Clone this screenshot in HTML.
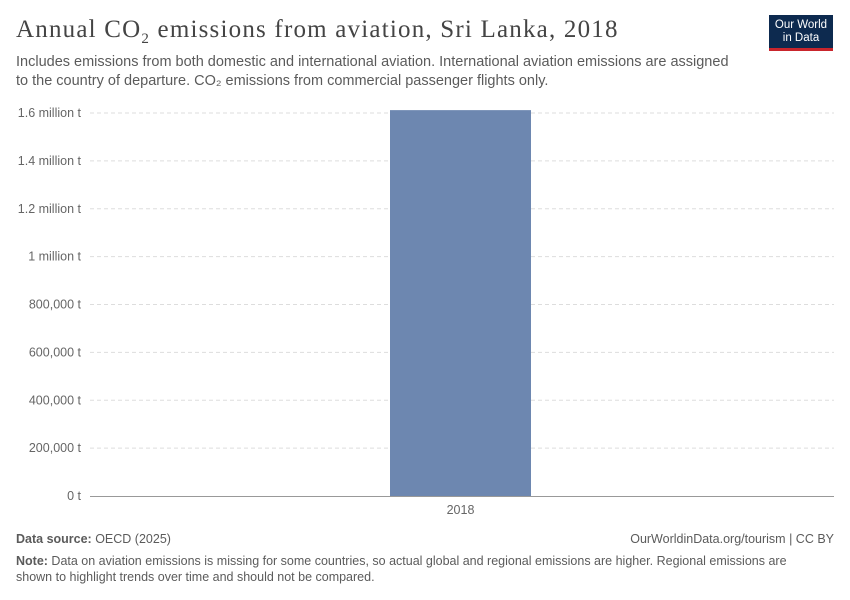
<!DOCTYPE html>
<html><head><meta charset="utf-8"><style>
body{margin:0;width:850px;height:600px;background:#fff;font-family:"Liberation Sans",sans-serif;position:relative;overflow:hidden}
.t{position:absolute;white-space:nowrap}
</style></head><body>
<div class="t" style="left:16px;top:16px;font-family:'Liberation Serif',serif;font-size:25px;letter-spacing:1.2px;color:#444">Annual CO<sub style="font-size:15px">2</sub> emissions from aviation, Sri Lanka, 2018</div>
<div class="t" style="left:16px;top:53px;font-size:14.5px;line-height:19px;color:#5b5b5b">Includes emissions from both domestic and international aviation. International aviation emissions are assigned<br>to the country of departure. CO₂ emissions from commercial passenger flights only.</div>
<div style="position:absolute;left:769px;top:15px;width:64px;height:36px;background:#0d2a4f;border-bottom:3px solid #c9252c;color:#fff;font-size:11.5px;line-height:13px;text-align:center;padding-top:4px;box-sizing:border-box">Our World<br>in Data</div>
<svg id="chart" width="850" height="600" style="position:absolute;left:0;top:0"></svg>
<div class="t" style="left:16px;top:532px;font-size:12.5px;color:#5b5b5b"><b>Data source:</b> OECD (2025)</div>
<div class="t" style="right:16px;top:532px;font-size:12.5px;color:#5b5b5b">OurWorldinData.org/tourism | CC BY</div>
<div class="t" style="left:16px;top:554px;font-size:12.5px;line-height:15.5px;color:#5b5b5b"><b>Note:</b> Data on aviation emissions is missing for some countries, so actual global and regional emissions are higher. Regional emissions are<br>shown to highlight trends over time and should not be compared.</div>
<script>
const categories=["2018"];
const values=[1612000];
const tickValues=[0,200000,400000,600000,800000,1000000,1200000,1400000,1600000];
const tickLabels=["0 t","200,000 t","400,000 t","600,000 t","800,000 t","1 million t","1.2 million t","1.4 million t","1.6 million t"];
const svg=document.getElementById('chart');const NS='http://www.w3.org/2000/svg';
const x0=87,x1=834,yBase=496,yTop=113,maxV=1600000;
const y=v=>yBase-(v/maxV)*(yBase-yTop);
function mk(t,a){const e=document.createElementNS(NS,t);for(const k in a)e.setAttribute(k,a[k]);svg.appendChild(e);return e;}
tickValues.forEach((v,i)=>{
 if(v>0){const l=mk('line',{x1:90,x2:x1,y1:y(v),y2:y(v),stroke:'#ddd','stroke-dasharray':'4,3'});
 
 }
 const t=mk('text',{x:81,y:y(v)+4,'text-anchor':'end','font-size':12.5,fill:'#666','font-family':'Liberation Sans,sans-serif'});t.textContent=tickLabels[i];
 
 
});
const bw=(x1-x0)/categories.length;
categories.forEach((c,i)=>{
 const cx=x0+bw*(i+0.5),w=141;
 const r=mk('rect',{x:cx-w/2,y:y(values[i]),width:w,height:yBase-y(values[i]),fill:'#6d87b0'});
 
 
 const t=mk('text',{x:cx,y:514,'text-anchor':'middle','font-size':12.5,fill:'#666','font-family':'Liberation Sans,sans-serif'});t.textContent=c;
 
 
});
const ax=mk('line',{x1:90,x2:x1,y1:yBase+0.5,y2:yBase+0.5,stroke:'#999'});


</script>
</body></html>
